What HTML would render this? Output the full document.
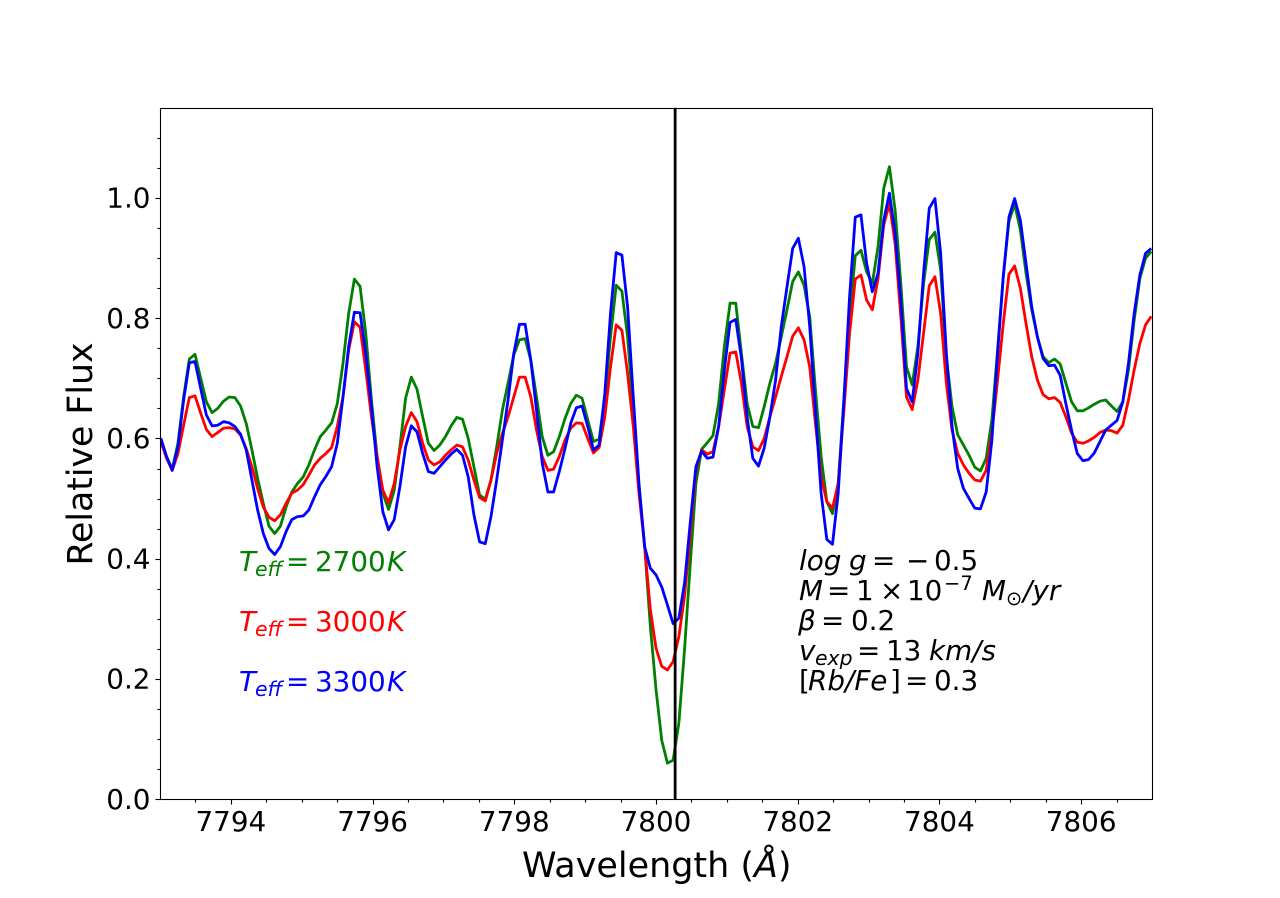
<!DOCTYPE html>
<html lang="en">
<head>
<meta charset="utf-8">
<title>Relative Flux vs Wavelength</title>
<style>
html,body{margin:0;padding:0;background:#fff;width:1280px;height:898px;overflow:hidden}
svg{display:block}
text{font-family:"DejaVu Sans","Liberation Sans",sans-serif;fill:#000}
.ann{font-size:27.8px}
.it{font-style:italic}
.sub{font-size:20.4px;font-style:italic}
.sup{font-size:19.5px}
</style>
</head>
<body>
<svg id="chart" xmlns="http://www.w3.org/2000/svg" width="1280" height="898" viewBox="0 0 1280 898">
  <rect x="0" y="0" width="1280" height="898" fill="#fff"/>
  <defs><clipPath id="plot-clip"><rect x="160" y="107.8" width="992" height="691.4"/></clipPath></defs>
  <g id="series-layer" clip-path="url(#plot-clip)"></g>
  <g id="ticks-layer"></g>
  <rect x="160.5" y="108.5" width="992" height="691" fill="none" stroke="#000" stroke-width="1.1"/>

  <text x="522" y="877" font-size="34.95">Wavelength (<tspan class="it">Å</tspan>)</text>
  <text transform="translate(92,454) rotate(-90)" text-anchor="middle" font-size="34.7">Relative Flux</text>

  <g>
    <text class="ann" y="571" style="fill:#008000"><tspan class="it" x="239" style="fill:#008000">T</tspan><tspan class="sub" x="255" dy="5" style="fill:#008000">eff</tspan><tspan x="286" dy="-5" style="fill:#008000">=</tspan><tspan x="315" style="fill:#008000">2700</tspan><tspan class="it" x="387" style="fill:#008000">K</tspan></text>
    <text class="ann" y="631" style="fill:#ff0000"><tspan class="it" x="239" style="fill:#ff0000">T</tspan><tspan class="sub" x="255" dy="5" style="fill:#ff0000">eff</tspan><tspan x="286" dy="-5" style="fill:#ff0000">=</tspan><tspan x="315" style="fill:#ff0000">3000</tspan><tspan class="it" x="387" style="fill:#ff0000">K</tspan></text>
    <text class="ann" y="691" style="fill:#0000ff"><tspan class="it" x="239" style="fill:#0000ff">T</tspan><tspan class="sub" x="255" dy="5" style="fill:#0000ff">eff</tspan><tspan x="286" dy="-5" style="fill:#0000ff">=</tspan><tspan x="315" style="fill:#0000ff">3300</tspan><tspan class="it" x="387" style="fill:#0000ff">K</tspan></text>
  </g>

  <g>
    <text class="ann" y="570"><tspan class="it" x="799">log</tspan><tspan class="it" x="849">g</tspan><tspan x="872">=</tspan><tspan x="906">−</tspan><tspan x="934">0.5</tspan></text>
    <text class="ann" y="600"><tspan class="it" x="799">M</tspan><tspan x="827">=</tspan><tspan x="856">1</tspan><tspan x="880">×</tspan><tspan x="907">10</tspan><tspan class="sup" x="944" dy="-10">−7</tspan><tspan class="it" x="982" dy="10">M</tspan><tspan class="sup" x="1006" dy="5">⊙</tspan><tspan class="it" x="1023" dy="-5">/yr</tspan></text>
    <text class="ann" y="630"><tspan class="it" x="798">β</tspan><tspan x="821">=</tspan><tspan x="851">0.2</tspan></text>
    <text class="ann" y="660"><tspan class="it" x="799">v</tspan><tspan class="sub" x="815" dy="5">exp</tspan><tspan x="857" dy="-5">=</tspan><tspan x="886">13</tspan><tspan class="it" x="929">km/s</tspan></text>
    <text class="ann" y="690"><tspan x="799">[</tspan><tspan class="it" x="808">Rb/Fe</tspan><tspan x="890">]</tspan><tspan x="905">=</tspan><tspan x="934">0.3</tspan></text>
  </g>
</svg>
<script>
const wavelengthStart = 7793.012;
const wavelengthStep = 0.08033;
const restWavelength = 7800.27;

const xMajorTicks = [7794, 7796, 7798, 7800, 7802, 7804, 7806];
const xMinorTicks = [7793.5, 7794.5, 7795, 7795.5, 7796.5, 7797, 7797.5, 7798.5, 7799, 7799.5, 7800.5, 7801, 7801.5, 7802.5, 7803, 7803.5, 7804.5, 7805, 7805.5, 7806.5];
const yMajorTicks = [0, 0.2, 0.4, 0.6, 0.8, 1.0];
const yMajorLabels = ['0.0', '0.2', '0.4', '0.6', '0.8', '1.0'];
const yMinorTicks = [0.05, 0.1, 0.15, 0.25, 0.3, 0.35, 0.45, 0.5, 0.55, 0.65, 0.7, 0.75, 0.85, 0.9, 0.95, 1.05, 1.1];

const flux2700 = [
.600,.570,.549,.592,.669,.732,.740,.700,.661,.643,.650,.662,.669,.668,.654,.625,.581,.534,.492,.454,
.442,.454,.486,.511,.525,.536,.556,.581,.603,.614,.626,.658,.725,.808,.865,.853,.775,.664,.570,.509,
.482,.514,.586,.667,.702,.682,.636,.592,.580,.589,.603,.621,.635,.632,.600,.553,.506,.499,.531,.586,
.647,.692,.739,.764,.766,.730,.669,.603,.572,.578,.603,.633,.658,.672,.667,.631,.595,.599,.669,.769,
.855,.845,.769,.647,.520,.420,.287,.182,.098,.060,.065,.126,.248,.390,.525,.582,.593,.605,.658,.753,
.825,.825,.742,.658,.620,.618,.653,.692,.725,.769,.814,.861,.877,.855,.802,.681,.570,.495,.475,.525,
.664,.803,.904,.913,.877,.858,.919,1.016,1.052,.980,.858,.719,.689,.753,.858,.931,.943,.880,.736,.653,
.606,.589,.572,.552,.546,.567,.631,.747,.869,.961,.990,.947,.875,.814,.769,.736,.726,.732,.724,.692,
.661,.646,.646,.651,.657,.662,.664,.654,.645,.661,.714,.797,.866,.900,.911];

const flux3000 = [
.595,.567,.547,.575,.622,.668,.671,.642,.615,.603,.610,.617,.618,.616,.606,.583,.553,.517,.486,.469,
.463,.473,.492,.509,.514,.523,.539,.556,.567,.575,.585,.620,.669,.747,.794,.785,.714,.636,.570,.514,
.493,.525,.581,.620,.643,.628,.592,.564,.556,.561,.572,.581,.589,.586,.564,.531,.502,.496,.531,.575,
.608,.636,.669,.702,.702,.669,.614,.570,.547,.549,.570,.597,.617,.626,.625,.600,.576,.585,.636,.719,
.789,.780,.708,.620,.509,.420,.315,.251,.221,.215,.229,.270,.337,.440,.548,.581,.574,.578,.620,.681,
.742,.744,.692,.620,.586,.580,.600,.636,.669,.703,.736,.770,.784,.764,.719,.625,.536,.495,.484,.525,
.647,.775,.865,.872,.830,.814,.866,.955,.991,.924,.803,.669,.648,.697,.775,.854,.869,.808,.692,.614,
.575,.556,.542,.531,.529,.547,.609,.697,.791,.873,.887,.850,.791,.736,.697,.673,.666,.668,.660,.636,
.609,.594,.592,.596,.602,.610,.614,.613,.609,.622,.664,.714,.758,.789,.803];

const flux3300 = [
.600,.570,.547,.586,.664,.726,.728,.683,.639,.621,.622,.628,.626,.620,.607,.581,.531,.481,.442,.417,
.407,.420,.445,.465,.470,.471,.481,.503,.523,.537,.553,.592,.669,.753,.810,.809,.741,.653,.553,.478,
.448,.465,.520,.586,.621,.611,.575,.545,.542,.553,.564,.574,.582,.572,.536,.473,.428,.425,.470,.531,
.597,.664,.741,.790,.790,.730,.647,.559,.511,.511,.545,.583,.625,.651,.654,.620,.581,.589,.675,.808,
.909,.905,.819,.669,.525,.420,.384,.373,.353,.323,.292,.301,.359,.459,.553,.579,.567,.569,.620,.714,
.793,.798,.733,.636,.567,.554,.584,.636,.697,.786,.852,.916,.933,.886,.786,.647,.509,.432,.424,.509,
.664,.836,.968,.972,.891,.844,.875,.963,1.008,.941,.830,.683,.661,.742,.875,.983,.999,.908,.742,.620,
.550,.517,.500,.484,.483,.511,.597,.742,.869,.968,.999,.963,.891,.819,.769,.733,.721,.722,.705,.658,
.614,.575,.563,.565,.576,.595,.614,.622,.630,.661,.725,.808,.872,.908,.916];

const SVG_NS = 'http://www.w3.org/2000/svg';
const plotLeft = 160, plotRight = 1152, plotTop = 107.8, plotBottom = 799.2;
const xMin = 7793, xMax = 7807, yMin = 0, yMax = 1.15;

function xScale(w) { return plotLeft + (w - xMin) / (xMax - xMin) * (plotRight - plotLeft); }
function yScale(v) { return plotBottom - (v - yMin) / (yMax - yMin) * (plotBottom - plotTop); }
function snap(p) { return Math.floor(p + 0.5) + 0.5; }

const seriesLayer = document.getElementById('series-layer');
const ticksLayer = document.getElementById('ticks-layer');

function drawSeries(values, color, name) {
  const pts = values.map(function (v, i) {
    return xScale(wavelengthStart + i * wavelengthStep).toFixed(2) + ',' + yScale(v).toFixed(2);
  }).join(' ');
  const line = document.createElementNS(SVG_NS, 'polyline');
  line.setAttribute('points', pts);
  line.setAttribute('fill', 'none');
  line.setAttribute('stroke', color);
  line.setAttribute('stroke-width', '2.8');
  line.setAttribute('stroke-linejoin', 'round');
  
  
  seriesLayer.appendChild(line);
}

function addTick(x1, y1, x2, y2, name) {
  const t = document.createElementNS(SVG_NS, 'line');
  t.setAttribute('x1', x1);
  t.setAttribute('y1', y1);
  t.setAttribute('x2', x2);
  t.setAttribute('y2', y2);
  t.setAttribute('stroke', '#000');
  t.setAttribute('stroke-width', '1.1');
  
  
  ticksLayer.appendChild(t);
}

function addLabel(x, y, str, anchor, name) {
  const t = document.createElementNS(SVG_NS, 'text');
  t.setAttribute('x', x);
  t.setAttribute('y', y);
  t.setAttribute('font-size', '27.8');
  t.setAttribute('text-anchor', anchor);
  
  
  t.textContent = str;
  ticksLayer.appendChild(t);
}

drawSeries(flux2700, '#008000', 'series-teff-2700');
drawSeries(flux3000, '#ff0000', 'series-teff-3000');
drawSeries(flux3300, '#0000ff', 'series-teff-3300');

const marker = document.createElementNS(SVG_NS, 'line');
marker.setAttribute('x1', xScale(restWavelength));
marker.setAttribute('x2', xScale(restWavelength));
marker.setAttribute('y1', plotTop);
marker.setAttribute('y2', plotBottom);
marker.setAttribute('stroke', '#000');
marker.setAttribute('stroke-width', '2.8');


seriesLayer.appendChild(marker);

xMajorTicks.forEach(function (w) {
  addTick(snap(xScale(w)), 799.5, snap(xScale(w)), 804.5, 'x-major-tick');
  addLabel(xScale(w), 831, String(w), 'middle', 'x-tick-label');
});
xMinorTicks.forEach(function (w) {
  addTick(snap(xScale(w)), 799.5, snap(xScale(w)), 802.5, 'x-minor-tick');
});
yMajorTicks.forEach(function (v, i) {
  addTick(160.5, snap(yScale(v)), 155.5, snap(yScale(v)), 'y-major-tick');
  addLabel(150.5, yScale(v) + 9.6, yMajorLabels[i], 'end', 'y-tick-label');
});
yMinorTicks.forEach(function (v) {
  addTick(160.5, snap(yScale(v)), 157.5, snap(yScale(v)), 'y-minor-tick');
});
</script>
</body>
</html>
